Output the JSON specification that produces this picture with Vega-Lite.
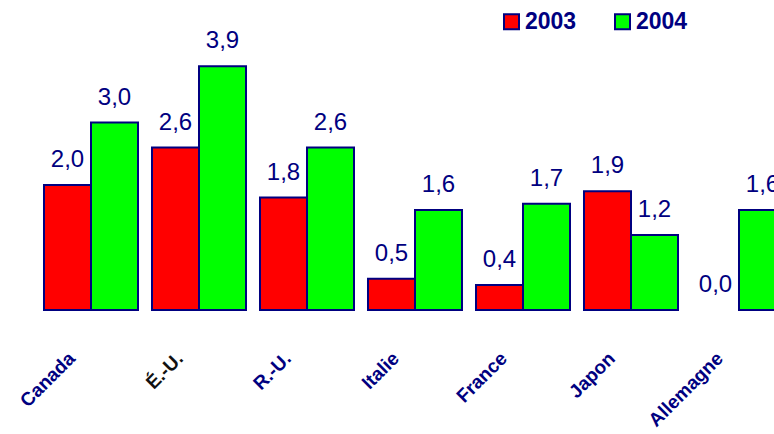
{
  "$schema": "https://vega.github.io/schema/vega-lite/v6.json",
  "autosize": "none",
  "padding": {"left": 37, "top": 0, "right": 0, "bottom": 124},
  "width": 737,
  "height": 310,
  "background": "white",
  "config": {
    "view": {"stroke": null},
    "font": "Liberation Sans",
    "locale": {
      "number": {"decimal": ",", "thousands": " ", "grouping": [3], "currency": ["", " €"]}
    }
  },
  "data": {
    "values": [
      {"pays": "Canada", "annee": "2003", "croissance": 2.0},
      {"pays": "Canada", "annee": "2004", "croissance": 3.0},
      {"pays": "É.-U.", "annee": "2003", "croissance": 2.6},
      {"pays": "É.-U.", "annee": "2004", "croissance": 3.9},
      {"pays": "R.-U.", "annee": "2003", "croissance": 1.8},
      {"pays": "R.-U.", "annee": "2004", "croissance": 2.6},
      {"pays": "Italie", "annee": "2003", "croissance": 0.5},
      {"pays": "Italie", "annee": "2004", "croissance": 1.6},
      {"pays": "France", "annee": "2003", "croissance": 0.4},
      {"pays": "France", "annee": "2004", "croissance": 1.7},
      {"pays": "Japon", "annee": "2003", "croissance": 1.9},
      {"pays": "Japon", "annee": "2004", "croissance": 1.2},
      {"pays": "Allemagne", "annee": "2003", "croissance": 0.0},
      {"pays": "Allemagne", "annee": "2004", "croissance": 1.6}
    ]
  },
  "encoding": {
    "x": {
      "field": "pays",
      "type": "nominal",
      "sort": null,
      "scale": {"range": [0, 756], "paddingInner": 0.1296, "paddingOuter": 0.0648},
      "axis": {
        "title": null,
        "domain": false,
        "ticks": false,
        "tickSize": 0,
        "labelAngle": -45,
        "labelAlign": "right",
        "labelBaseline": "middle",
        "labelPadding": 45,
        "labelOffset": -19,
        "labelFont": "Liberation Sans",
        "labelFontSize": 19,
        "labelFontWeight": "bold",
        "labelColor": {"condition": {"test": "datum.value === 'É.-U.'", "value": "#111111"}, "value": "#000080"},
        "labelOverlap": false,
        "labelLimit": 0
      }
    },
    "xOffset": {"field": "annee", "type": "nominal", "scale": {"paddingInner": 0, "paddingOuter": 0}},
    "y": {
      "field": "croissance",
      "type": "quantitative",
      "scale": {"domain": [0, 4.96], "nice": false, "zero": true},
      "axis": null
    }
  },
  "layer": [
    {
      "mark": {"type": "bar", "stroke": "#000080", "strokeWidth": 2},
      "encoding": {
        "strokeOpacity": {
          "condition": {"test": "datum.croissance === 0", "value": 0},
          "value": 1
        },
        "color": {
          "field": "annee",
          "type": "nominal",
          "scale": {"domain": ["2003", "2004"], "range": ["#ff0000", "#00ff00"]},
          "legend": {
            "title": null,
            "orient": "none",
            "direction": "horizontal",
            "legendX": 463,
            "legendY": 10,
            "symbolType": "square",
            "symbolSize": 225,
            "symbolStrokeColor": "#000080",
            "symbolStrokeWidth": 2,
            "symbolOpacity": 1,
            "labelFont": "Liberation Sans",
            "labelFontSize": 23,
            "labelFontWeight": "bold",
            "labelColor": "#000080",
            "labelOffset": 2,
            "columnPadding": 34
          }
        }
      }
    },
    {
      "mark": {
        "type": "text",
        "baseline": "alphabetic",
        "align": "center",
        "dy": -18,
        "font": "Liberation Sans",
        "fontSize": 24,
        "color": "#000080"
      },
      "encoding": {
        "text": {"field": "croissance", "type": "quantitative", "format": ".1f"}
      }
    }
  ]
}
